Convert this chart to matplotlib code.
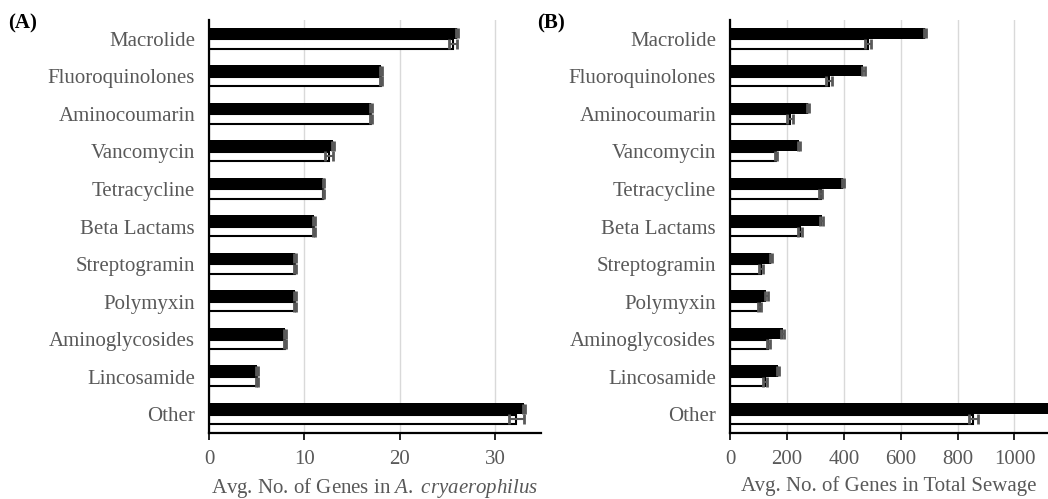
"""Average ARG counts per antibiotic class: A. cryaerophilus vs total sewage."""

import matplotlib.pyplot as plt
import numpy as np

categories = [
    "Macrolide", "Fluoroquinolones", "Aminocoumarin", "Vancomycin",
    "Tetracycline", "Beta Lactams", "Streptogramin", "Polymyxin",
    "Aminoglycosides", "Lincosamide", "Other",
]

# Panel A: A. cryaerophilus (black = series 1, white = series 2)
a_black = [26.0, 18.0, 17.0, 13.0, 12.0, 11.0, 9.0, 9.0, 8.0, 5.0, 33.0]
a_black_err = [0.1, 0.1, 0.1, 0.1, 0.1, 0.1, 0.1, 0.1, 0.1, 0.1, 0.1]
a_white = [25.6, 18.0, 17.0, 12.6, 12.0, 11.0, 9.0, 9.0, 8.0, 5.0, 32.2]
a_white_err = [0.4, 0.1, 0.1, 0.4, 0.1, 0.1, 0.1, 0.1, 0.1, 0.1, 0.8]

# Panel B: total sewage
b_black = [686, 469, 275, 242, 398, 322, 144, 128, 185, 170, 1150]
b_black_err = [4, 4, 4, 4, 4, 4, 4, 4, 4, 4, 4]
b_white = [485, 348, 210, 161, 319, 246, 109, 104, 135, 123, 855]
b_white_err = [10, 10, 10, 4, 6, 6, 6, 4, 6, 6, 16]

GREY = "#595959"
FS = 15

plt.rcParams["font.family"] = ["Liberation Serif", "DejaVu Serif"]
plt.rcParams["mathtext.fontset"] = "custom"
plt.rcParams["mathtext.rm"] = "Liberation Serif"
plt.rcParams["mathtext.it"] = "Liberation Serif:italic"

fig = plt.figure(figsize=(10.48, 4.99), dpi=100)
ax_a = fig.add_axes([209 / 1048, 1 - 433 / 499, (541 - 209) / 1048, 413 / 499])
ax_b = fig.add_axes([730 / 1048, 1 - 433 / 499, (1048 - 730) / 1048, 413 / 499])

y = np.arange(len(categories))
hb = 0.30
hw = 0.25


def draw(ax, black, black_err, white, white_err, xlim, ticks, xlabel):
    ax.barh(y - hb / 2, black, height=hb, color="black", zorder=3)
    ax.barh(y + hw / 2 + 0.01, white, height=hw, color="white",
            edgecolor="black", linewidth=1.5, zorder=3)
    err_kw = dict(fmt="none", ecolor=GREY, elinewidth=1.5, capsize=3.6,
                  capthick=2.0, zorder=4)
    ax.errorbar(black, y - hb / 2, xerr=black_err, **err_kw)
    ax.errorbar(white, y + hw / 2 + 0.01, xerr=white_err, **err_kw)

    ax.set_xlim(*xlim)
    ax.set_ylim(len(categories) - 0.5, -0.5)
    ax.set_yticks(y)
    ax.set_yticklabels(categories)
    ax.set_xticks(ticks)
    ax.tick_params(axis="y", length=0, pad=10, labelsize=FS, labelcolor=GREY)
    ax.tick_params(axis="x", length=5, width=1.2, direction="out",
                   labelsize=FS, labelcolor=GREY, pad=7)
    ax.grid(axis="x", color="#d9d9d9", linewidth=1, zorder=0)
    for side in ("top", "right"):
        ax.spines[side].set_visible(False)
    for side in ("left", "bottom"):
        ax.spines[side].set_linewidth(1.6)
        ax.spines[side].set_zorder(5)
    ax.set_xlabel(xlabel, fontsize=FS, color=GREY, labelpad=5)


draw(ax_a, a_black, a_black_err, a_white, a_white_err, (0, 34.8),
     [0, 10, 20, 30], r"Avg. No. of Genes in $\mathit{A.}$ $\mathit{cryaerophilus}$")
draw(ax_b, b_black, b_black_err, b_white, b_white_err, (0, 1118),
     [0, 200, 400, 600, 800, 1000], "Avg. No. of Genes in Total Sewage")

fig.text(8 / 1048, 1 - 23 / 499, "(A)", fontsize=15, fontweight="bold", va="center")
fig.text(537 / 1048, 1 - 23 / 499, "(B)", fontsize=15, fontweight="bold", va="center")

fig.savefig("out.png", dpi=100)
